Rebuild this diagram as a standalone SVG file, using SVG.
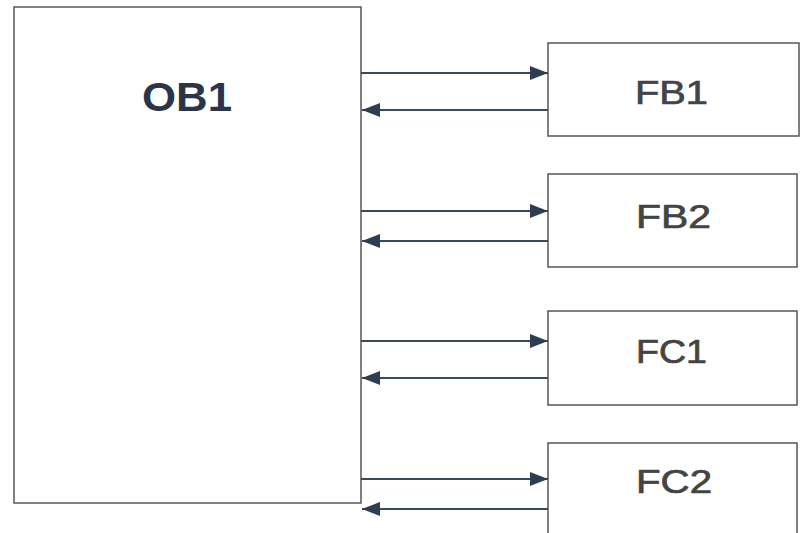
<svg xmlns="http://www.w3.org/2000/svg" width="801" height="533" viewBox="0 0 801 533">
<defs>
<style>
.box{fill:#fff;stroke:#555;stroke-width:1.5}
.lbl{font-family:"Liberation Sans",Arial,sans-serif;fill:#444;stroke:#444;stroke-width:0.7;font-size:33px}
.conn line{stroke:#3c4a58;stroke-width:1.8}
</style>
<marker id="ah" viewBox="0 0 18 14" refX="18" refY="7" markerWidth="18" markerHeight="14" markerUnits="userSpaceOnUse" orient="auto">
<path d="M0,0 L18,7 L0,14 Z" fill="#2c3e50"/>
</marker>
</defs>
<rect width="801" height="533" fill="#fff"/>
<g id="OB1">
<rect class="box" x="14" y="7" width="347" height="496"/>
<text x="142" y="111" font-family="'Liberation Sans',Arial,sans-serif" font-weight="bold" font-size="40" fill="#2a3548" textLength="90" lengthAdjust="spacingAndGlyphs">OB1</text>
</g>
<g id="FB1">
<rect class="box" x="548" y="43" width="251" height="93"/>
<text class="lbl" x="635" y="104" textLength="73" lengthAdjust="spacingAndGlyphs">FB1</text>
</g>
<g id="FB2">
<rect class="box" x="548" y="174" width="249" height="93"/>
<text class="lbl" x="636" y="228" textLength="75" lengthAdjust="spacingAndGlyphs">FB2</text>
</g>
<g id="FC1">
<rect class="box" x="548" y="311" width="249" height="94"/>
<text class="lbl" x="636" y="363" textLength="71" lengthAdjust="spacingAndGlyphs">FC1</text>
</g>
<g id="FC2">
<rect class="box" x="548" y="443" width="249" height="100"/>
<text class="lbl" x="636" y="493" textLength="76" lengthAdjust="spacingAndGlyphs">FC2</text>
</g>
<g id="connectors" class="conn">
<line x1="361" y1="73" x2="548" y2="73" marker-end="url(#ah)"/>
<line x1="548" y1="110" x2="362" y2="110" marker-end="url(#ah)"/>
<line x1="361" y1="211" x2="548" y2="211" marker-end="url(#ah)"/>
<line x1="548" y1="241" x2="362" y2="241" marker-end="url(#ah)"/>
<line x1="361" y1="341" x2="548" y2="341" marker-end="url(#ah)"/>
<line x1="548" y1="378" x2="362" y2="378" marker-end="url(#ah)"/>
<line x1="361" y1="479" x2="548" y2="479" marker-end="url(#ah)"/>
<line x1="548" y1="509" x2="362" y2="509" marker-end="url(#ah)"/>
</g>
</svg>
